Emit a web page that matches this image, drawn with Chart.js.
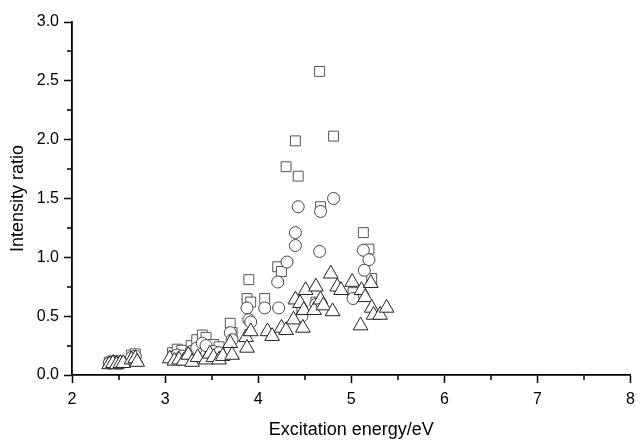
<!DOCTYPE html>
<html>
<head>
<meta charset="utf-8">
<script src="https://cdn.jsdelivr.net/npm/chart.js@4.4.0/dist/chart.umd.min.js"></script>
<style>
    html, body { margin: 0; padding: 0; background: #fff; }
    #wrap { width: 640px; height: 441px; }
</style>
</head>
<body>
<div id="wrap"><canvas id="chart"></canvas></div>
<script>
// === DATA ===
const squareX = [2.40, 2.44, 2.48, 2.52, 2.64, 2.68, 3.08, 3.13, 3.18, 3.28, 3.34, 3.40, 3.44, 3.52, 3.58, 3.70, 3.72, 3.88, 3.90, 3.92, 4.07, 4.21, 4.25, 4.30, 4.40, 4.43, 4.47, 4.62, 4.66, 4.67, 4.81, 5.02, 5.13, 5.19, 5.22];
const squareY = [0.11, 0.12, 0.12, 0.11, 0.17, 0.18, 0.19, 0.22, 0.21, 0.25, 0.30, 0.34, 0.32, 0.26, 0.24, 0.44, 0.36, 0.65, 0.81, 0.62, 0.65, 0.92, 0.88, 1.77, 1.99, 1.69, 0.55, 0.62, 2.58, 1.43, 2.03, 0.70, 1.21, 1.07, 0.82];

const circleX = [2.40, 2.44, 2.48, 2.52, 2.64, 2.68, 3.08, 3.13, 3.18, 3.28, 3.34, 3.40, 3.44, 3.52, 3.58, 3.70, 3.72, 3.88, 3.90, 3.92, 4.07, 4.21, 4.22, 4.31, 4.40, 4.40, 4.43, 4.47, 4.62, 4.66, 4.67, 4.81, 5.02, 5.13, 5.19, 5.14];
const circleY = [0.10, 0.11, 0.10, 0.10, 0.15, 0.16, 0.15, 0.17, 0.16, 0.20, 0.23, 0.27, 0.25, 0.20, 0.19, 0.36, 0.30, 0.57, 0.47, 0.45, 0.57, 0.79, 0.57, 0.96, 1.21, 1.10, 1.43, 0.50, 0.60, 1.05, 1.39, 1.50, 0.65, 1.06, 0.98, 0.89];

const triangleX = [2.40, 2.44, 2.48, 2.52, 2.55, 2.64, 2.68, 2.70, 3.05, 3.10, 3.15, 3.20, 3.25, 3.29, 3.35, 3.44, 3.48, 3.52, 3.58, 3.62, 3.70, 3.72, 3.87, 3.88, 3.92, 4.10, 4.15, 4.25, 4.30, 4.38, 4.40, 4.45, 4.49, 4.51, 4.48, 4.60, 4.62, 4.67, 4.70, 4.78, 4.80, 4.85, 4.89, 5.01, 5.10, 5.11, 5.15, 5.21, 5.22, 5.24, 5.31, 5.38];
const triangleY = [0.09, 0.10, 0.09, 0.10, 0.10, 0.13, 0.14, 0.11, 0.14, 0.12, 0.13, 0.12, 0.17, 0.11, 0.15, 0.13, 0.18, 0.15, 0.13, 0.16, 0.27, 0.17, 0.32, 0.23, 0.37, 0.37, 0.33, 0.40, 0.38, 0.47, 0.64, 0.61, 0.55, 0.72, 0.40, 0.55, 0.75, 0.64, 0.59, 0.86, 0.54, 0.75, 0.72, 0.79, 0.42, 0.72, 0.66, 0.78, 0.57, 0.51, 0.51, 0.57];

const xMin = 2, xMax = 8, xStep = 1;
const yMin = 0, yMax = 3, yStep = 0.5;

function toPoints(xs, ys) {
    return xs.map((x, i) => ({ x: x, y: ys[i] }));
}

// minor ticks halfway between the labelled ones
const minorTicks = {
    id: 'minorTicks',
    afterDraw(chart) {
        const ctx = chart.ctx;
        const xs = chart.scales.x, ys = chart.scales.y;
        ctx.save();
        ctx.strokeStyle = '#000';
        ctx.lineWidth = 1.5;
        ctx.beginPath();
        for (let v = xMin + xStep / 2; v < xMax; v += xStep) {
            const px = Math.round(xs.getPixelForValue(v));
            ctx.moveTo(px, xs.top);
            ctx.lineTo(px, xs.top + 5);
        }
        for (let v = yMin + yStep / 2; v < yMax; v += yStep) {
            const py = Math.round(ys.getPixelForValue(v));
            ctx.moveTo(ys.right, py);
            ctx.lineTo(ys.right - 5, py);
        }
        ctx.stroke();
        ctx.restore();
    }
};

const family = "'Liberation Sans', Arial, sans-serif";
const tickFont = { family: family, size: 16 };
const titleFont = { family: family, size: 18 };

new Chart(document.getElementById('chart'), {
    type: 'scatter',
    data: {
        datasets: [
            {
                label: 'triangles',
                data: toPoints(triangleX, triangleY),
                pointStyle: 'triangle',
                pointRadius: 8.5,
                borderColor: '#222',
                backgroundColor: '#fff',
                borderWidth: 1,
                order: 1
            },
            {
                label: 'circles',
                data: toPoints(circleX, circleY),
                pointStyle: 'circle',
                pointRadius: 6,
                borderColor: '#444',
                backgroundColor: '#fff',
                borderWidth: 1,
                order: 2
            },
            {
                label: 'squares',
                data: toPoints(squareX, squareY),
                pointStyle: 'rect',
                pointRadius: 7,
                borderColor: '#555',
                backgroundColor: '#fff',
                borderWidth: 1,
                order: 3
            }
        ]
    },
    options: {
        responsive: true,
        maintainAspectRatio: false,
        animation: false,
        layout: { padding: { left: 6, top: 22, right: 7, bottom: 0 } },
        plugins: { legend: { display: false }, tooltip: { enabled: false } },
        scales: {
            x: {
                type: 'linear',
                min: xMin, max: xMax,
                afterFit(scale) {
                    scale.height = 66;
                    // let the last label run to the page edge like in the original
                    scale.paddingRight = 0;
                    scale.paddingLeft = 0;
                },
                ticks: {
                    stepSize: xStep,
                    color: '#000',
                    font: tickFont,
                    padding: 7,
                    maxRotation: 0
                },
                grid: { drawOnChartArea: false, tickLength: 8, tickColor: '#000', tickWidth: 1.5 },
                border: { color: '#000', width: 1.8 },
                title: {
                    display: true,
                    text: 'Excitation energy/eV',
                    color: '#000',
                    font: titleFont,
                    padding: { top: 2, bottom: 0 }
                }
            },
            y: {
                type: 'linear',
                min: yMin, max: yMax,
                afterFit(scale) { scale.width = 66; },
                ticks: {
                    stepSize: yStep,
                    color: '#000',
                    font: tickFont,
                    padding: 5,
                    callback: v => v.toFixed(1)
                },
                grid: { drawOnChartArea: false, tickLength: 8, tickColor: '#000', tickWidth: 1.5 },
                border: { color: '#000', width: 1.8 },
                title: {
                    display: true,
                    text: 'Intensity ratio',
                    color: '#000',
                    font: titleFont,
                    padding: { top: 1, bottom: 1 }
                }
            }
        }
    },
    plugins: [minorTicks]
});
</script>
</body>
</html>
